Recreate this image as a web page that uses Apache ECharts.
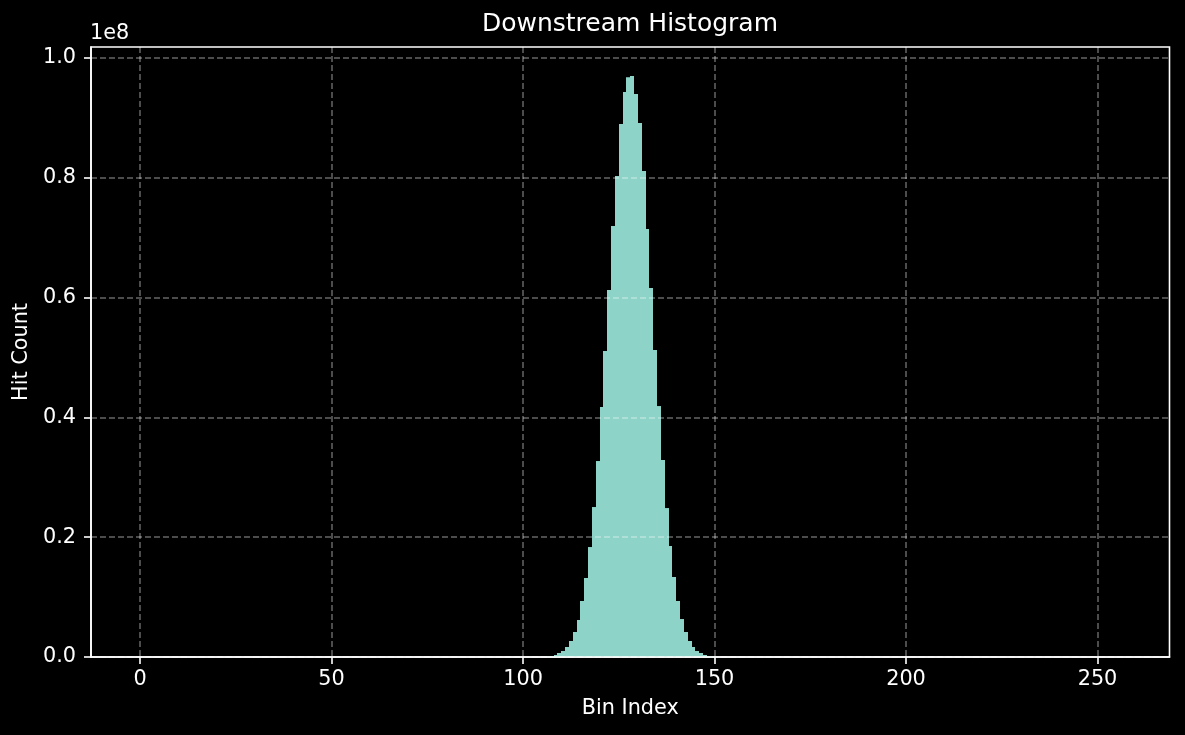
<!DOCTYPE html>
<html>
<head>
<meta charset="utf-8">
<script src="https://cdn.jsdelivr.net/npm/echarts@6/dist/echarts.min.js"></script>
<style>
  html, body { margin: 0; padding: 0; background: #000; }
  #chart { width: 1185px; height: 735px; }
</style>
</head>
<body>
<div id="chart"></div>
<script>
// ---- data ----
const titleText = 'Downstream Histogram';
const xAxisName = 'Bin Index';
const yAxisName = 'Hit Count';
const binCount = 256;          // bins 0..255, each of width 1
const binWidth = 1;
const firstNonZeroBin = 106;   // counts below start at this bin
const hitCounts = [
  50000, 150000, 330000, 670000, 1000000, 1670000, 2670000, 4170000,
  6180000, 9350000, 13190000, 18360000, 25040000, 32720000, 41740000,
  51090000, 61270000, 71950000, 80300000, 88980000, 94320000, 96780000,
  97000000, 93990000, 89150000, 81140000, 71450000, 61600000, 51250000,
  41900000, 32890000, 24870000, 18530000, 13360000, 9350000, 6340000,
  4170000, 2670000, 1670000, 1000000, 670000, 330000, 150000, 50000
];
const xTickValues = [0, 50, 100, 150, 200, 250];
const yTickValues = [0, 2e7, 4e7, 6e7, 8e7, 1e8];
const yOffsetText = '1e8';

// ---- build full histogram ----
const histData = [];
for (let i = 0; i < binCount; i++) {
  const k = i - firstNonZeroBin;
  const v = (k >= 0 && k < hitCounts.length) ? hitCounts[k] : 0;
  histData.push([i, v]);
}
const maxCount = Math.max(...hitCounts);
const xMargin = binCount * binWidth * 0.05;

const FONT = '"DejaVu Sans", "Liberation Sans", sans-serif';
const FS = 20.8;
const gridLine = { color: 'rgba(255,255,255,0.4)', width: 1.5, type: [6, 3] };

const chart = echarts.init(document.getElementById('chart'), null, { renderer: 'canvas' });
chart.setOption({
  backgroundColor: '#000000',
  animation: false,
  title: {
    text: titleText,
    left: 630,
    textAlign: 'center',
    top: 12,
    padding: 0,
    textStyle: { color: '#ffffff', fontSize: 25, fontWeight: 'normal', fontFamily: FONT, lineHeight: 25 }
  },
  graphic: [{
    type: 'text',
    left: 90,
    top: 23.5,
    style: { text: yOffsetText, fill: '#ffffff', fontSize: FS, fontFamily: FONT }
  }],
  grid: {
    left: 91, top: 47, width: 1078.5, height: 610,
    show: true, borderColor: '#ffffff', borderWidth: 1.6, backgroundColor: 'transparent',
    containLabel: false
  },
  xAxis: {
    type: 'value',
    min: -xMargin,
    max: binCount * binWidth + xMargin,
    splitNumber: 5,
    z: 5,
    name: xAxisName,
    nameLocation: 'middle',
    nameGap: 41,
    nameTextStyle: { color: '#ffffff', fontSize: FS, fontFamily: FONT, lineHeight: FS },
    axisLine: { show: true, onZero: false, lineStyle: { color: '#ffffff', width: 1.6 } },
    axisTick: { show: true, inside: false, length: 7, customValues: xTickValues, lineStyle: { color: '#ffffff', width: 1.6 } },
    axisLabel: {
      show: true, margin: 12.5, color: '#ffffff', fontSize: FS, fontFamily: FONT, lineHeight: FS,
      customValues: xTickValues,
      showMinLabel: true, showMaxLabel: true,
      formatter: v => (xTickValues.indexOf(v) >= 0 ? String(v) : '')
    },
    splitLine: { show: true, lineStyle: gridLine }
  },
  yAxis: {
    type: 'value',
    min: 0,
    max: maxCount * 1.05,
    splitNumber: 5,
    z: 5,
    name: yAxisName,
    nameLocation: 'middle',
    nameRotate: 90,
    nameGap: 55,
    nameTextStyle: { color: '#ffffff', fontSize: FS, fontFamily: FONT, lineHeight: FS },
    axisLine: { show: true, onZero: false, lineStyle: { color: '#ffffff', width: 1.6 } },
    axisTick: { show: true, inside: false, length: 7, customValues: yTickValues, lineStyle: { color: '#ffffff', width: 1.6 } },
    axisLabel: {
      show: true, margin: 15, color: '#ffffff', fontSize: FS, fontFamily: FONT,
      customValues: yTickValues,
      formatter: v => (yTickValues.indexOf(v) >= 0 ? (v / 1e8).toFixed(1) : '')
    },
    splitLine: { show: true, lineStyle: gridLine }
  },
  series: [{
    type: 'custom',
    z: 1,
    data: histData,
    encode: { x: 0, y: 1 },
    clip: true,
    renderItem: function (params, api) {
      const x = api.value(0);
      const y = api.value(1);
      if (!y) return null;
      const pTop = api.coord([x, y]);
      const pBot = api.coord([x + binWidth, 0]);
      const x0 = Math.round(pTop[0]);
      const x1 = Math.round(pBot[0]);
      return {
        type: 'rect',
        shape: { x: x0, y: pTop[1], width: x1 - x0, height: pBot[1] - pTop[1] },
        style: { fill: '#8dd3c7' }
      };
    }
  }]
});
</script>
</body>
</html>
